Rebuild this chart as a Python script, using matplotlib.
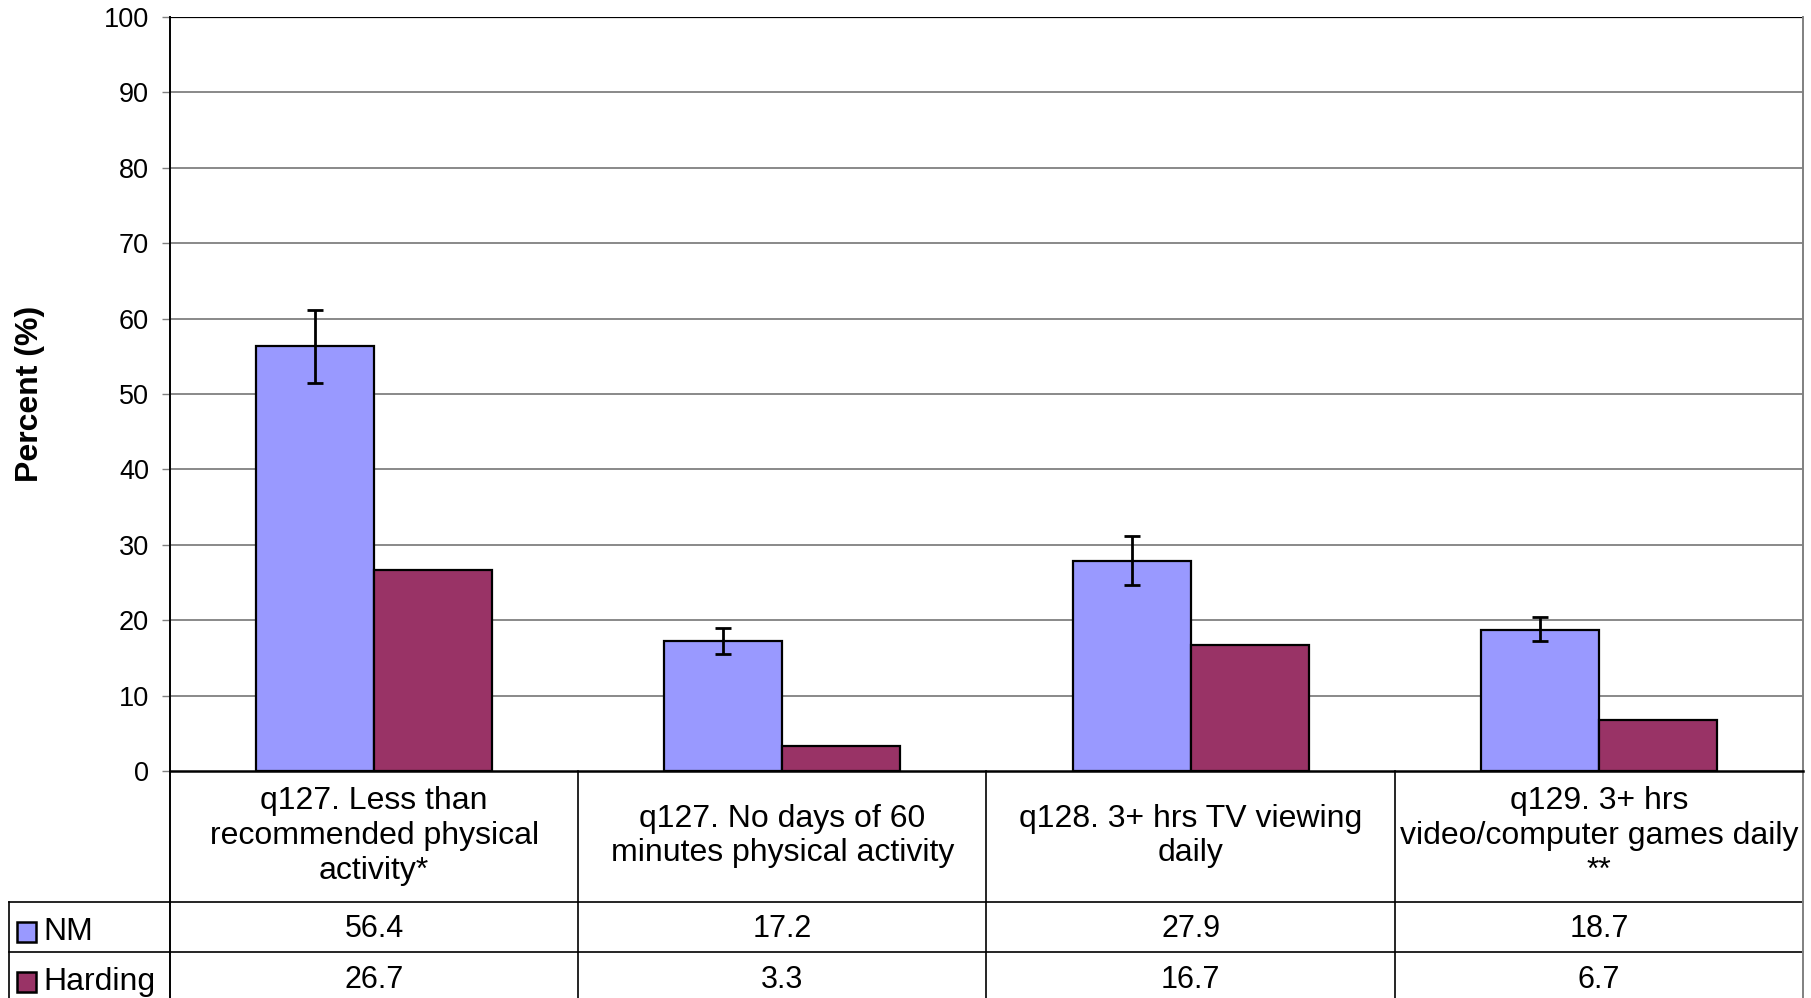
import matplotlib
matplotlib.use("Agg")
import matplotlib.pyplot as plt
from matplotlib.patches import Rectangle

plt.rcParams['font.family'] = ['Liberation Sans', 'DejaVu Sans']

categories = ["q127. Less than\nrecommended physical\nactivity*",
              "q127. No days of 60\nminutes physical activity",
              "q128. 3+ hrs TV viewing\ndaily",
              "q129. 3+ hrs\nvideo/computer games daily\n**"]
series_names = ["NM", "Harding"]
nm_values = [56.4, 17.2, 27.9, 18.7]
harding_values = [26.7, 3.3, 16.7, 6.7]
nm_ci_low = [51.5, 15.5, 24.7, 17.2]
nm_ci_high = [61.1, 19.0, 31.2, 20.4]
nm_labels = ["56.4", "17.2", "27.9", "18.7"]
harding_labels = ["26.7", "3.3", "16.7", "6.7"]
yticks = list(range(0, 101, 10))

colors = ["#9999FF", "#993366"]

W, H = 1811, 998
fig = plt.figure(figsize=(W / 100, H / 100), dpi=100)
ax_left, ax_right, ax_top, ax_bottom = 170, 1803, 17, 771
ax = fig.add_axes([ax_left / W, 1 - ax_bottom / H, (ax_right - ax_left) / W, (ax_bottom - ax_top) / H])

n = len(categories)
x = list(range(n))
bw = 0.289
xn = [i - bw / 2 for i in x]
xh = [i + bw / 2 for i in x]
ax.bar(xn, nm_values, width=bw, color=colors[0], edgecolor="black", linewidth=1.6, zorder=3)
ax.bar(xh, harding_values, width=bw, color=colors[1], edgecolor="black", linewidth=1.6, zorder=3)
err_lo = [v - l for v, l in zip(nm_values, nm_ci_low)]
err_hi = [h - v for v, h in zip(nm_values, nm_ci_high)]
ax.errorbar(xn, nm_values, yerr=[err_lo, err_hi], fmt="none", ecolor="black",
            elinewidth=2.0, capsize=6, capthick=2.0, zorder=4)

ax.set_xlim(-0.5, n - 0.5)
ax.set_ylim(0, 100)
ax.set_yticks(yticks)
ax.set_xticks([])
ax.tick_params(axis="y", length=6, width=1, color="#808080", pad=9, labelsize=19.5)
for t in yticks[1:-1]:
    ax.axhline(t, color="#6a6a6a", linewidth=1.1, zorder=1)
ax.axhline(100, color="black", linewidth=1.6, zorder=1)
for s in ["top", "bottom"]:
    ax.spines[s].set_visible(False)
ax.spines["left"].set_color("black")
ax.spines["left"].set_linewidth(1.4)
ax.spines["right"].set_color("#808080")
ax.spines["right"].set_linewidth(1.4)
fig.text(30 / W, 1 - 394 / H, "Percent (%)", rotation=90, ha="center", va="center",
         fontsize=23, fontweight="bold")

# table beneath (axes-fraction y, data x)
axh = ax_bottom - ax_top
def fy(py):
    return (ax_bottom - py) / axh
trans = ax.get_xaxis_transform()
ppx = (ax_right - ax_left) / n
def dx(px):
    return (px - ax_left) / ppx - 0.5

y0, y1, y2, y3 = fy(771), fy(902), fy(952), fy(1005)
lk = dict(color="black", linewidth=1.2, clip_on=False, transform=trans)
ax.plot([-0.5, n - 0.5], [y0, y0], color="black", linewidth=1.8, clip_on=False, transform=trans, zorder=5)
ax.plot([dx(9), n - 0.5], [y1, y1], **lk)
ax.plot([dx(9), n - 0.5], [y2, y2], **lk)
for b in [i - 0.5 for i in range(n + 1)]:
    col = "#808080" if b == n - 0.5 else "black"
    ax.plot([b, b], [y0, y3], color=col, linewidth=1.4 if b in (-0.5, n - 0.5) else 1.2,
            clip_on=False, transform=trans)
ax.plot([dx(9), dx(9)], [y1, y3], **lk)

for i in x:
    ax.text(i, fy(836), categories[i], transform=trans, ha="center", va="center",
            fontsize=23, linespacing=1.2, clip_on=False)
    ax.text(i, fy(929), nm_labels[i], transform=trans, ha="center", va="center",
            fontsize=22, clip_on=False)
    ax.text(i, fy(980), harding_labels[i], transform=trans, ha="center", va="center",
            fontsize=22, clip_on=False)

# legend keys in the table's row header
for name, c, yc in [(series_names[0], colors[0], 932), (series_names[1], colors[1], 982)]:
    sq = Rectangle((17 / W, 1 - (yc + 10) / H), 19 / W, 20 / H, transform=fig.transFigure,
                   facecolor=c, edgecolor="black", linewidth=1.8)
    fig.patches.append(sq)
    fig.text(43 / W, 1 - yc / H, name, ha="left", va="center", fontsize=23)

fig.savefig("out.png", dpi=100)
